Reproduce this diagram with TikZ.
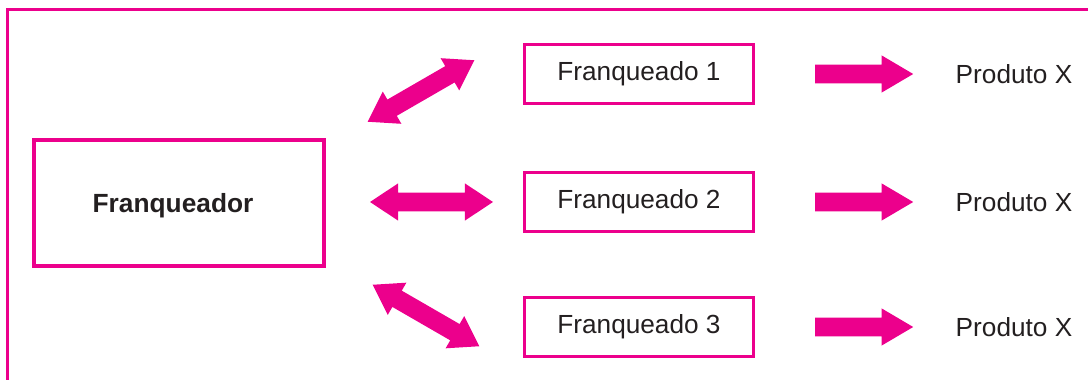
\documentclass[tikz,border=0pt]{standalone}
\usepackage{fontspec}
\setmainfont{Liberation Sans}
\usepackage{tikz}
\usetikzlibrary{shapes.arrows}

\definecolor{franqpink}{RGB}{236,0,140}
\definecolor{franqtext}{RGB}{35,31,32}

\begin{document}
\begin{tikzpicture}[
  x=1pt, y=1pt,
  font=\fontsize{26.2}{30}\selectfont,
  text=franqtext,
  frame/.style={draw=franqpink, line width=3pt},
  mainbox/.style={
    draw=franqpink,
    line width=4pt,
    minimum width=290pt,
    minimum height=126pt,
    text depth=0pt,
    font=\fontsize{26.3}{30}\selectfont\bfseries
  },
  unitbox/.style={
    draw=franqpink,
    line width=2.3pt,
    minimum width=229pt,
    minimum height=59pt
  },
  twoway/.style={
    double arrow,
    fill=franqpink,
    inner xsep=0pt,
    inner ysep=9.2pt,
    double arrow head extend=9.2pt,
    double arrow tip angle=67,
    minimum height=123pt
  },
  oneway/.style={
    single arrow,
    fill=franqpink,
    anchor=tail,
    inner xsep=0pt,
    inner ysep=9.2pt,
    single arrow head extend=9.2pt,
    single arrow tip angle=61,
    minimum height=98pt
  }
]
  \useasboundingbox (0,0) rectangle (1088,380);
  \draw[frame] (7.2,0) |- (1088,370);

  \node[mainbox] (franqueador) at (179,177) {Franqueador\rule{12pt}{0pt}};

  \node[unitbox] (franqueado1) at (639,306) {Franqueado 1};
  \node[unitbox] (franqueado2) at (639,178) {Franqueado 2};
  \node[unitbox] (franqueado3) at (639,53) {Franqueado 3};

  \node[twoway, rotate=30] (link1) at (421,289) {};
  \node[twoway] (link2) at (431.5,178) {};
  \node[twoway, rotate=-30] (link3) at (426,64.5) {};

  \node[oneway] (out1) at (815,306) {};
  \node[oneway] (out2) at (815,178) {};
  \node[oneway] (out3) at (815,53) {};

  \node (produto1) at (1014,306) {Produto X};
  \node (produto2) at (1014,178) {Produto X};
  \node (produto3) at (1014,53) {Produto X};
\end{tikzpicture}
\end{document}
